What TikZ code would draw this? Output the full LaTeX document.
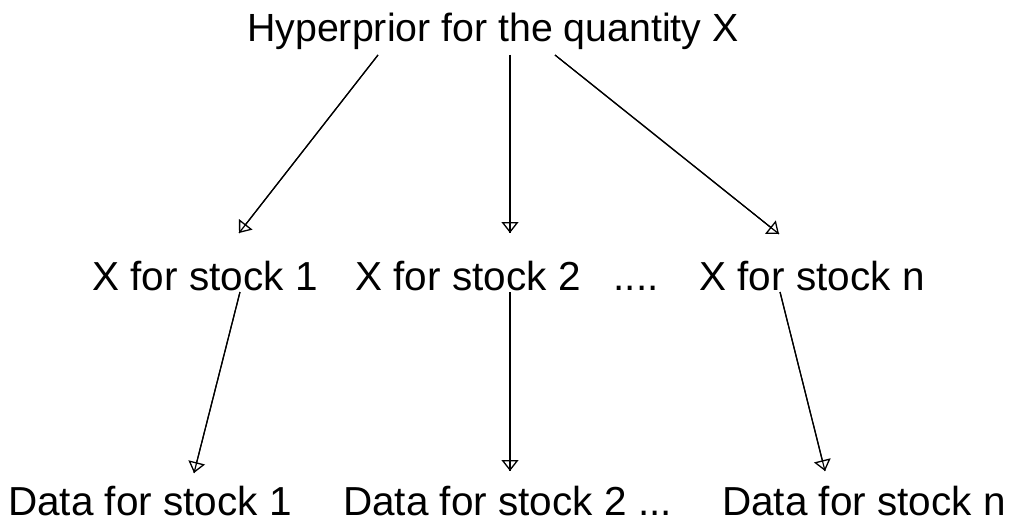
\documentclass[tikz,border=0pt]{standalone}
\usepackage{fontspec}
\setmainfont{Liberation Sans}
\usetikzlibrary{arrows.meta}
\begin{document}
\begin{tikzpicture}[x=1pt,y=1pt,
  lbl/.style={inner sep=0pt, font=\fontsize{39.3}{47}\selectfont},
  lbl2/.style={inner sep=0pt, font=\fontsize{40.5}{48}\selectfont},
  arr/.style={line width=1.2pt, -{Triangle[open,width=17pt,length=11pt,line width=1.3pt]},
              postaction={draw, line width=1.2pt, -}}]
\useasboundingbox (0,0) rectangle (1009,523);
\node[lbl, anchor=base] (top) at (493,481) {Hyperprior for the quantity X};
\node[lbl2, anchor=base] (x1) at (205,233) {X for stock 1};
\node[lbl2, anchor=base] (x2) at (468,233) {X for stock 2};
\node[lbl2, anchor=base] (dots) at (636,233) {....};
\node[lbl2, anchor=base] (xn) at (812,233) {X for stock n};
\node[lbl2, anchor=base west] (d1) at (8,8) {Data for stock 1};
\node[lbl2, anchor=base west] (d2) at (343,8) {Data for stock 2 ...};
\node[lbl2, anchor=base west] (dn) at (722,8) {Data for stock n};
\draw[arr] ([shift={(-115pt,-13pt)}]top.base) -- ([shift={(34pt,57pt)}]x1.base);
\draw[arr] ([shift={(17pt,-13pt)}]top.base) -- ([shift={(42pt,57pt)}]x2.base);
\draw[arr] ([shift={(62pt,-13pt)}]top.base) -- ([shift={(-33pt,56pt)}]xn.base);
\draw[arr] ([shift={(35pt,-2pt)}]x1.base) -- ([shift={(186pt,42pt)}]d1.base west);
\draw[arr] ([shift={(42pt,-2pt)}]x2.base) -- ([shift={(167pt,44pt)}]d2.base west);
\draw[arr] ([shift={(-32pt,-2pt)}]xn.base) -- ([shift={(103pt,44pt)}]dn.base west);
\end{tikzpicture}
\end{document}
